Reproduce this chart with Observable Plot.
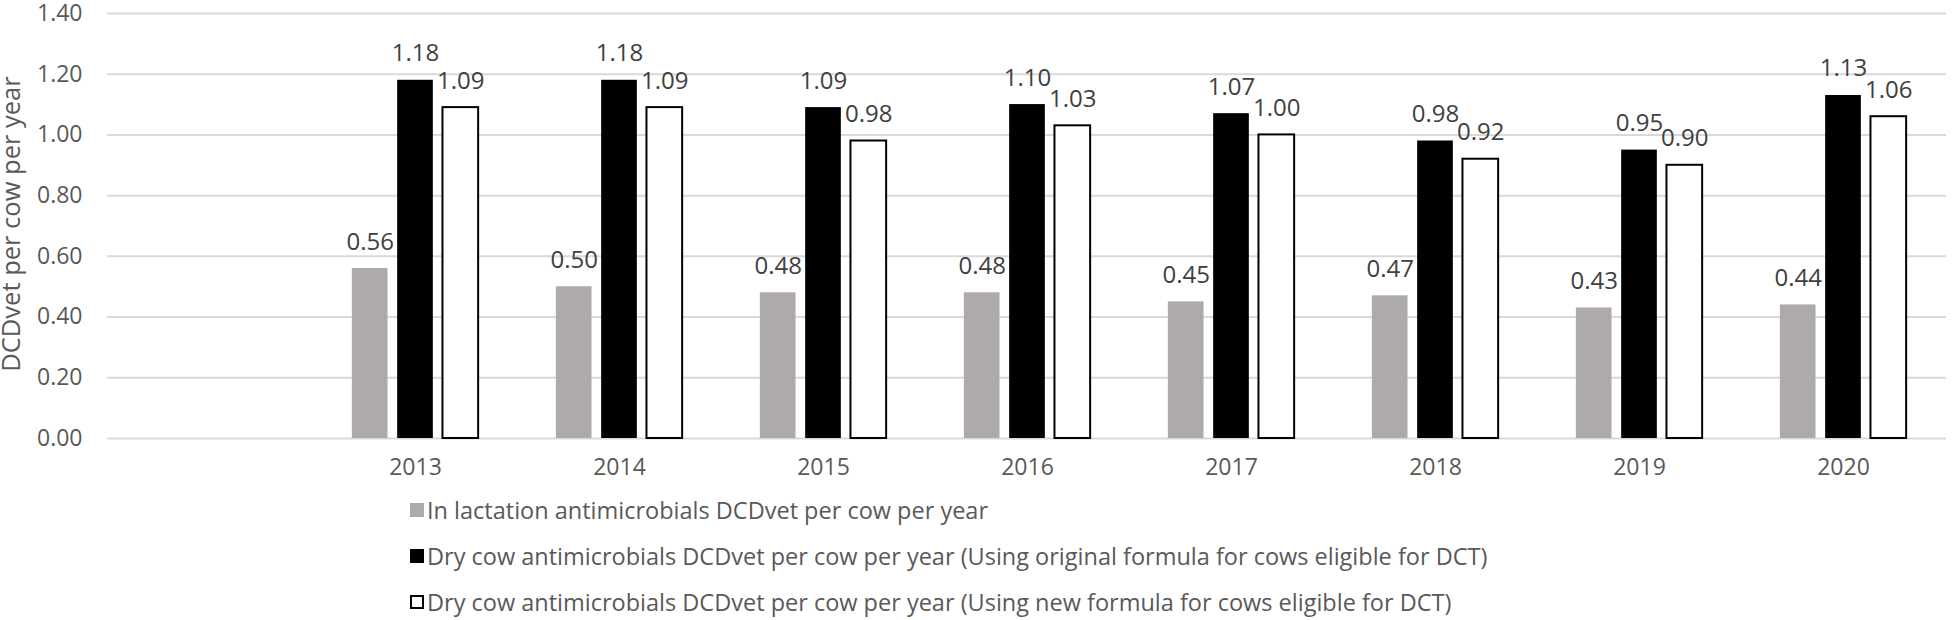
<!DOCTYPE html>
<html>
<head>
<meta charset="utf-8">
<script src="https://cdn.jsdelivr.net/npm/d3@7"></script>
<script src="https://cdn.jsdelivr.net/npm/@observablehq/plot@0.6"></script>
<style>
  html, body { margin: 0; padding: 0; background: #fff; }
  body { width: 1952px; height: 620px; overflow: hidden; font-family: "Open Sans", sans-serif; }
  #legend { padding-left: 410px; margin-top: 1px; }
  .row { height: 46px; display: flex; align-items: center; font-size: 23.5px; color: #595959; white-space: nowrap; }
  .sw { width: 14px; height: 14px; margin-right: 3px; box-sizing: border-box; }
</style>
</head>
<body>
<div id="chart"></div>
<div id="legend"></div>
<script>
const categories = ["", "2013", "2014", "2015", "2016", "2017", "2018", "2019", "2020"];
const years = ["2013", "2014", "2015", "2016", "2017", "2018", "2019", "2020"];
const lactation = [0.56, 0.50, 0.48, 0.48, 0.45, 0.47, 0.43, 0.44];
const dryOriginal = [1.18, 1.18, 1.09, 1.10, 1.07, 0.98, 0.95, 1.13];
const dryNew = [1.09, 1.09, 0.98, 1.03, 1.00, 0.92, 0.90, 1.06];
const seriesNames = [
  "In lactation antimicrobials DCDvet per cow per year",
  "Dry cow antimicrobials DCDvet per cow per year (Using original formula for cows eligible for DCT)",
  "Dry cow antimicrobials DCDvet per cow per year (Using new formula for cows eligible for DCT)"
];
const yTicks = [0, 0.2, 0.4, 0.6, 0.8, 1.0, 1.2, 1.4];
const yLabel = "DCDvet per cow per year";

const seriesValues = [lactation, dryOriginal, dryNew];
const styles = [
  {fill: "#aeaaaa", stroke: "none", strokeWidth: 0, dx: -45.3},
  {fill: "#000000", stroke: "none", strokeWidth: 0, dx: 0},
  {fill: "#ffffff", stroke: "#000000", strokeWidth: 2, dx: 45.3}
];
const rows = seriesValues.map((vals, s) => years.map((year, i) => ({year, value: vals[i], series: seriesNames[s]})));

const barInset = (204.33 - 36) / 2;
const marks = [
  Plot.ruleY(yTicks, {stroke: "#d9d9d9", strokeWidth: 2})
];
rows.forEach((data, s) => {
  const st = styles[s];
  marks.push(Plot.barY(data, {
    x: "year", y: "value", fill: st.fill, stroke: st.stroke, strokeWidth: st.strokeWidth,
    dx: st.dx, insetLeft: barInset, insetRight: barInset
  }));
  marks.push(Plot.text(data, {
    x: "year", y: "value", text: d => d.value.toFixed(2), dx: st.dx, dy: -19,
    lineAnchor: "bottom", fontSize: 24, fill: "#404040"
  }));
});
marks.push(Plot.axisY({ticks: yTicks, tickFormat: d => d.toFixed(2), tickSize: 0, tickPadding: 25, fontSize: 23, fill: "#595959", label: null}));
marks.push(Plot.axisX({tickSize: 0, tickPadding: 20, fontSize: 23, fill: "#595959", label: null, tickFormat: d => d}));
marks.push(Plot.text([yLabel], {frameAnchor: "left", text: d => d, rotate: -90, dx: -88, dy: -2, fontSize: 25.5, fill: "#595959", textAnchor: "middle", lineAnchor: "bottom"}));

const chart = Plot.plot({
  width: 1952,
  height: 486,
  marginLeft: 107,
  marginRight: 6,
  marginTop: 13,
  marginBottom: 48,
  style: {fontFamily: "'Open Sans', sans-serif", background: "#fff"},
  x: {domain: categories, padding: 0, axis: null},
  y: {domain: [0, 1.4], axis: null},
  marks
});
document.getElementById("chart").appendChild(chart);

const legend = document.getElementById("legend");
seriesNames.forEach((name, s) => {
  const row = document.createElement("div");
  row.className = "row";
  const sw = document.createElement("div");
  sw.className = "sw";
  sw.style.background = styles[s].fill;
  if (s === 2) sw.style.border = "2px solid #000";
  const label = document.createElement("span");
  label.textContent = name;
  row.appendChild(sw);
  row.appendChild(label);
  legend.appendChild(row);
});
</script>
</body>
</html>
